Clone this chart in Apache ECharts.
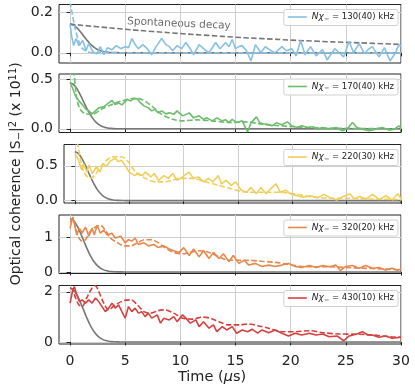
<!DOCTYPE html>
<html><head><meta charset="utf-8">
<script src="https://cdn.jsdelivr.net/npm/echarts@6/dist/echarts.min.js"></script>
<style>html,body{margin:0;padding:0;background:#fff}#c{width:415px;height:386px}</style>
</head><body><div id="c"></div>
<script>
// ---------- DATA ----------
const xTicks = [0, 5, 10, 15, 20, 25, 30];
const couplingLabels = ['130(40)', '170(40)', '220(30)', '320(20)', '430(10)'];
const yTicks1 = [0, 0.2];
const yTicks2 = [0, 0.5];
const yTicks3 = [0, 0.5];
const yTicks4 = [0, 1];
const yTicks5 = [0, 2];

// Panel 1 (130 kHz)
const t130 = [0,0.15,0.33,0.55,0.8,0.94,1.15,1.45,1.7,2.1,2.45,2.75,3.05,3.4,3.8,4.2,4.6,5.0,5.3,5.6,5.9,6.2,6.6,7.0,7.4,7.8,8.3,8.7,9.0,9.3,9.7,10.1,10.5,10.9,11.2,11.7,12.1,12.6,13.2,13.6,14.1,14.4,14.7,15.0,15.3,15.6,16.0,16.4,16.8,17.3,17.7,18.2,18.6,19.2,19.6,20.1,20.5,20.9,21.3,21.8,22.3,22.9,23.3,24.0,24.4,24.8,25.3,25.7,26.2,26.7,27.0,27.4,28.0,28.5,29.0,29.5,29.8,30.0];
const v130 = [0.14,0.08,0.035,0.07,0.035,0.03,0.06,0.01,0.045,0.003,-0.005,0.03,-0.01,0.025,0.015,0.035,0.02,0.03,0.025,0.07,0.04,0.02,0.04,0.02,-0.01,0.03,0.07,0.04,0.03,0.01,0.035,0.02,0.05,0.02,-0.01,0.04,0.02,0.0,0.05,0.02,0.05,0.03,0.065,0.02,0.03,0.035,0.01,-0.04,0.04,0.0,0.03,0.01,0.0,0.03,0.01,0.02,-0.015,0.06,-0.01,0.03,-0.015,0.015,-0.035,0.02,0.0,-0.02,0.055,0.0,0.045,-0.005,0.015,0.03,-0.02,0.025,-0.04,0.0,0.04,0.03];
const tFit130 = [0,0.2,0.5,0.8,1.1,1.5,2.0,2.5,30];
const vFit130 = [0.25,0.19,0.11,0.055,0.022,0.006,0.001,0,0];
const tSpont = [0,2.5,5,7.5,10,12.5,15,17.5,20,22.5,25,27.5,30];
const vSpont = [0.14,0.127,0.115,0.104,0.094,0.085,0.076,0.069,0.062,0.056,0.051,0.046,0.041];

// Panel 2 (170 kHz)
const t170 = [0,0.15,0.5,0.8,1.1,1.4,1.7,2.0,2.3,2.6,3.05,3.5,3.8,4.1,4.4,4.7,5.2,5.5,5.8,6.1,6.4,6.7,7.1,7.4,7.7,8.0,8.3,8.7,9.0,9.4,9.7,10.2,10.5,10.8,11.2,11.7,12.1,12.4,12.9,13.3,13.8,14.1,14.4,14.7,15.1,15.6,16.1,16.4,16.9,17.2,17.5,17.9,18.3,18.7,19.2,19.7,20.1,20.6,21.0,21.5,22.0,22.4,22.9,23.5,24.1,24.7,25.2,25.6,26.0,26.5,27.1,27.7,28.3,28.9,29.4,29.8,30];
const v170 = [0.47,0.43,0.33,0.28,0.245,0.2,0.18,0.15,0.18,0.21,0.22,0.26,0.285,0.245,0.26,0.24,0.295,0.28,0.305,0.3,0.26,0.23,0.21,0.18,0.195,0.16,0.18,0.15,0.16,0.145,0.18,0.13,0.145,0.16,0.11,0.13,0.095,0.11,0.08,0.11,0.08,0.09,0.063,0.095,0.063,0.08,-0.03,0.06,0.12,0.06,0.05,0.045,0.03,0.06,0.04,0.07,0.03,0.013,0.03,0.013,0.02,-0.003,0.013,-0.003,0.013,-0.02,0.007,0.063,0.013,-0.003,-0.02,-0.003,0.013,-0.013,-0.003,0.03,0.01];
const tFit170 = [0,0.33,0.6,0.9,1.4,2.0,2.9,3.8,4.7,5.8,6.5,7.4,8.3,9.3,10.2,11.4,12.9,14.4,15.9,17.4,20.4,23.5,26.5,30];
const vFit170 = [0.9,0.6,0.31,0.2,0.15,0.145,0.2,0.245,0.28,0.305,0.295,0.23,0.145,0.095,0.08,0.09,0.08,0.063,0.07,0.046,0.02,0.007,0.003,0.0];

// Panel 3 (220 kHz)
const t220 = [0,0.33,0.63,0.8,1.1,1.3,1.6,2.0,2.3,2.6,2.9,3.2,3.7,4.0,4.3,4.6,5.0,5.5,5.8,6.2,6.5,7.0,7.3,7.7,8.2,8.6,9.0,9.4,9.9,10.5,10.9,11.4,11.8,12.3,12.7,13.2,13.5,13.9,14.4,14.8,15.3,15.8,16.2,16.7,17.1,17.6,18.0,18.5,18.9,19.4,19.8,20.4,21.0,21.7,22.3,22.9,23.5,24.1,24.7,25.3,25.7,26.2,26.8,27.4,28.0,28.6,29.2,29.7,30];
const v220 = [0.68,0.58,0.44,0.53,0.41,0.51,0.39,0.49,0.41,0.53,0.49,0.56,0.61,0.56,0.58,0.51,0.41,0.36,0.39,0.36,0.41,0.34,0.39,0.29,0.36,0.32,0.39,0.29,0.34,0.41,0.32,0.34,0.27,0.32,0.27,0.36,0.24,0.29,0.22,0.27,0.15,0.12,0.19,0.1,0.19,0.1,0.17,0.24,0.12,0.15,0.1,0.07,0.05,0.07,0.04,0.09,0.04,0.01,0.06,0.1,0.025,0.06,0.025,0.09,0.015,0.07,0.01,0.1,0.025];
const tFit220 = [0,0.3,0.6,0.9,1.4,1.8,2.6,3.5,4.3,4.9,5.6,6.5,7.4,8.3,9.6,10.8,12.0,13.2,14.4,15.9,17.4,18.9,20.4,22.0,23.5,25.0,26.5,30];
const vFit220 = [0.95,0.78,0.53,0.39,0.32,0.36,0.53,0.63,0.63,0.56,0.41,0.32,0.27,0.27,0.32,0.32,0.27,0.22,0.17,0.12,0.12,0.12,0.09,0.05,0.035,0.035,0.025,0.015];

// Panel 4 (320 kHz)
const t320 = [0,0.25,0.4,0.6,0.85,1.1,1.4,1.7,2.0,2.2,2.45,2.75,3.05,3.35,3.8,4.1,4.6,5.0,5.3,5.6,5.9,6.2,6.7,7.1,7.6,8.0,8.5,9.0,9.4,9.9,10.3,10.8,11.2,11.7,12.1,12.6,13.0,13.5,13.9,14.4,14.8,15.3,15.8,16.2,16.8,17.4,18.0,18.6,19.2,19.8,20.4,21.0,21.7,22.3,22.9,23.5,24.1,24.5,25.0,25.6,26.2,26.8,27.4,28.0,28.6,29.2,29.7,30];
const v320 = [1.27,1.6,1.4,1.08,1.27,1.13,1.31,1.04,1.27,1.08,1.36,1.13,1.22,1.08,1.13,0.99,1.04,0.85,0.94,0.9,0.99,0.8,0.85,0.76,0.8,0.71,0.76,0.67,0.62,0.57,0.71,0.48,0.67,0.44,0.62,0.39,0.57,0.39,0.53,0.3,0.48,0.25,0.34,0.2,0.25,0.16,0.2,0.16,0.2,0.25,0.16,0.13,0.19,0.13,0.19,0.15,0.2,0.04,0.16,0.19,0.11,0.19,0.11,0.13,0.06,0.11,0.05,0.09];
const tFit320 = [0,0.25,0.5,0.8,1.1,1.4,1.8,2.3,2.75,3.2,3.65,4.3,4.9,5.5,6.1,6.8,7.4,8.0,8.6,9.4,10.2,10.9,11.7,12.6,13.5,14.4,15.3,16.2,17.4,18.6,19.8,21.0,22.3,23.5,25.0,26.5,28.0,30];
const vFit320 = [1.45,1.55,1.27,0.99,0.9,0.94,1.17,1.31,1.36,1.22,0.99,0.85,0.76,0.76,0.85,0.94,0.94,0.85,0.71,0.57,0.53,0.57,0.62,0.57,0.44,0.34,0.34,0.34,0.31,0.28,0.22,0.16,0.15,0.15,0.13,0.11,0.09,0.06];

// Panel 5 (430 kHz)
const t430 = [0,0.25,0.4,0.6,0.85,1.1,1.4,1.7,2.0,2.3,2.6,2.9,3.2,3.5,3.8,4.1,4.4,4.7,5.0,5.3,5.6,5.9,6.2,6.5,6.8,7.1,7.4,7.9,8.2,8.5,9.0,9.4,9.7,10.2,10.5,10.9,11.4,11.7,12.1,12.6,13.0,13.3,13.8,14.2,14.7,15.1,15.6,16.1,16.5,17.0,17.4,18.0,18.6,19.2,19.8,20.4,21.0,21.7,22.3,22.9,23.5,24.2,24.8,25.3,26.0,26.5,27.0,27.4,28.0,28.6,29.2,30];
const v430 = [1.55,2.08,2.2,1.88,1.61,1.68,1.55,1.68,1.55,1.75,1.61,1.41,1.21,1.35,1.55,1.35,1.48,1.21,0.95,1.41,1.21,1.35,1.15,1.21,1.01,1.15,0.95,1.08,0.75,0.95,0.88,1.01,0.81,1.08,0.95,0.75,0.88,0.61,0.81,0.55,0.68,0.41,0.61,0.48,0.61,0.35,0.48,0.41,0.51,0.35,0.48,0.37,0.48,0.35,0.24,0.35,0.28,0.35,0.28,0.32,0.21,0.24,0.05,0.24,0.32,0.41,0.28,0.28,0.19,0.24,0.15,0.19];
const tFit430 = [0,0.25,0.5,0.8,1.1,1.5,2.0,2.3,2.6,3.05,3.5,4.1,4.9,5.5,6.1,6.7,7.3,8.0,8.6,9.4,10.2,11.1,12.0,12.7,13.5,14.4,15.3,16.2,17.1,18.0,19.2,20.4,21.7,22.9,24.4,26.0,27.4,29.0,30];
const vFit430 = [2.15,2.08,1.75,1.48,1.41,1.75,2.15,2.24,2.01,1.55,1.28,1.48,1.65,1.68,1.48,1.21,1.15,1.25,1.28,1.15,0.95,0.91,0.99,0.95,0.81,0.68,0.68,0.72,0.64,0.55,0.41,0.41,0.45,0.37,0.32,0.31,0.28,0.21,0.19];

// Gaussian (gray) curves
const tGauss = [0,0.25,0.5,0.75,1,1.25,1.5,1.75,2,2.25,2.5,2.75,3,3.25,3.5,3.75,4,4.5,5,30];
const vGauss1 = [0.14,0.137,0.128,0.115,0.099,0.081,0.064,0.048,0.035,0.024,0.016,0.010,0.006,0.004,0.002,0.001,0.001,0,0,0];
const vGauss2 = [0.46,0.45,0.422,0.379,0.325,0.267,0.211,0.159,0.115,0.079,0.052,0.033,0.02,0.012,0.006,0.004,0.002,0,0,0];
const vGauss3 = [0.70,0.685,0.642,0.576,0.495,0.407,0.321,0.242,0.174,0.12,0.08,0.05,0.031,0.018,0.01,0.005,0.003,0.001,0,0];
const vGauss4 = [1.55,1.516,1.421,1.276,1.096,0.901,0.710,0.535,0.386,0.267,0.177,0.112,0.068,0.04,0.022,0.012,0.006,0.002,0,0];
const vGauss5 = [2.15,2.103,1.972,1.769,1.52,1.249,0.985,0.742,0.535,0.37,0.245,0.155,0.095,0.056,0.03,0.016,0.008,0.002,0,0];

// ---------- LAYOUT / STYLE ----------
const colors = ['#88c0e3', '#6cbd6c', '#efcf5b', '#e9884c', '#d8403f'];
const grayC = '#777777';
const tops = [4.5, 74, 144.5, 215, 285.5];
const panelH = 58.5;
const yMin = [-0.05, -0.037, -0.034, -0.045, -0.08];
const yMax = [0.236, 0.55, 0.806, 1.66, 2.25];
const yDec = [1, 1, 1, 0, 0];

const panels = [
  {t: t130, v: v130, tf: tFit130, vf: vFit130, g: vGauss1, yt: yTicks1},
  {t: t170, v: v170, tf: tFit170, vf: vFit170, g: vGauss2, yt: yTicks2},
  {t: t220, v: v220, tf: tFit220, vf: vFit220, g: vGauss3, yt: yTicks3},
  {t: t320, v: v320, tf: tFit320, vf: vFit320, g: vGauss4, yt: yTicks4},
  {t: t430, v: v430, tf: tFit430, vf: vFit430, g: vGauss5, yt: yTicks5}
];
const zip = (a, b) => a.map((x, i) => [x, b[i]]);
const dash = [5.5, 2.4];
const axisC = '#222';
const gridC = '#cfcfcf';
const FF = 'DejaVu Sans';
const LW = 1.6;

const grids = [], xAxes = [], yAxes = [], series = [], legends = [];
panels.forEach((p, i) => {
  grids.push({left: 59, right: 14, top: tops[i], height: panelH, show: true,
    borderColor: axisC, borderWidth: 1, backgroundColor: 'transparent'});
  xAxes.push({type: 'value', gridIndex: i, min: -1, max: 30,
    axisLine: {show: false},
    axisTick: {show: true, length: 3.5, customValues: xTicks, lineStyle: {color: axisC}},
    axisLabel: {show: i === 4, customValues: xTicks, fontSize: 14, color: axisC, margin: 10, fontFamily: FF},
    splitLine: {show: true, lineStyle: {color: gridC, width: 1}}
  });
  const ya = {type: 'value', gridIndex: i, min: yMin[i], max: yMax[i],
    axisLine: {show: false},
    axisTick: {show: true, length: 3.5, customValues: p.yt, lineStyle: {color: axisC}},
    axisLabel: {customValues: p.yt, fontSize: 14, color: axisC, margin: 6, fontFamily: FF,
      formatter: v => v.toFixed(yDec[i])},
    splitLine: {show: true, lineStyle: {color: gridC, width: 1}}
  };
  if (i === 2) {
    Object.assign(ya, {
      name: 'Optical coherence |S{sub|−}|{sup|2} (x 10{sup|11})',
      nameLocation: 'middle', nameGap: 40, nameRotate: 90,
      nameTextStyle: {fontSize: 14, color: axisC, fontFamily: FF,
        rich: {sub: {fontSize: 10, verticalAlign: 'bottom', color: axisC, fontFamily: FF, padding: [6, 0, 0, 0]},
               sup: {fontSize: 10, verticalAlign: 'top', color: axisC, fontFamily: FF, padding: [0, 0, 6, 0]}}}
    });
  }
  yAxes.push(ya);
  const nm = 'N' + couplingLabels[i];
  series.push({name: 'gauss' + i, type: 'line', xAxisIndex: i, yAxisIndex: i, data: zip(tGauss, p.g),
    symbol: 'none', smooth: true, lineStyle: {color: grayC, width: LW}, z: 2, silent: true});
  series.push({name: 'fit' + i, type: 'line', xAxisIndex: i, yAxisIndex: i, data: zip(p.tf, p.vf),
    symbol: 'none', smooth: 0.3, lineStyle: {color: colors[i], width: LW, type: dash}, z: 3});
  series.push({name: nm, type: 'line', xAxisIndex: i, yAxisIndex: i, data: zip(p.t, p.v),
    symbol: 'none', lineStyle: {color: colors[i], width: LW}, itemStyle: {color: colors[i]}, z: 4});
  legends.push({data: [{name: nm, icon: 'rect'}], right: 17, top: tops[i] + 5, itemWidth: 19, itemHeight: 1.6, itemGap: 4,
    padding: [3, 4, 3, 4], borderColor: '#d0d0d0', borderWidth: 1, borderRadius: 2,
    backgroundColor: 'rgba(255,255,255,0.85)', selectedMode: false,
    formatter: n => '{i|Nχ}{s|−} = ' + n.slice(1) + ' kHz',
    textStyle: {fontSize: 8.5, color: '#222', fontFamily: FF,
      rich: {i: {fontStyle: 'italic', fontSize: 9, color: '#222', fontFamily: FF},
             s: {fontSize: 6.5, color: '#222', verticalAlign: 'bottom', fontFamily: FF, padding: [4, 0, 0, 0]}}}
  });
});
series.push({name: 'spont', type: 'line', xAxisIndex: 0, yAxisIndex: 0, data: zip(tSpont, vSpont),
  symbol: 'none', smooth: true, lineStyle: {color: grayC, width: LW, type: dash}, z: 2});

const chart = echarts.init(document.getElementById('c'), null, {renderer: 'canvas'});
chart.setOption({
  animation: false,
  backgroundColor: '#fff',
  grid: grids, xAxis: xAxes, yAxis: yAxes, series: series, legend: legends,
  graphic: [
    {type: 'text', left: 127, top: 16, rotation: -0.045,
      style: {text: 'Spontaneous decay', fontSize: 10.5, fill: '#6a6a6a', fontFamily: FF}},
    {type: 'text', x: 212, y: 377,
      style: {text: 'Time ({i|μ}s)', fontSize: 14.5, fill: axisC, fontFamily: FF,
        align: 'center', verticalAlign: 'middle',
        rich: {i: {fontStyle: 'italic', fontSize: 14.5, fill: axisC, fontFamily: FF}}}}
  ]
});
</script></body></html>
